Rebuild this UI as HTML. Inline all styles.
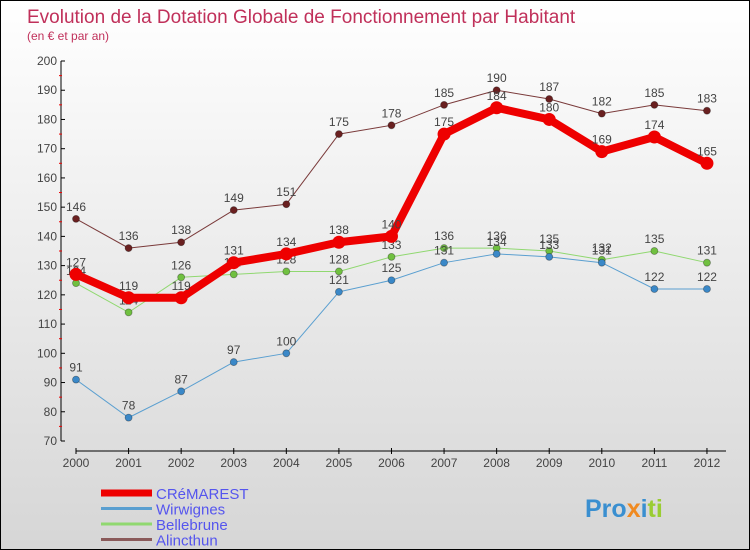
<!DOCTYPE html>
<html><head><meta charset="utf-8"><style>
body{margin:0}
#c{position:relative;width:748px;height:548px;border:1px solid #000;background:linear-gradient(#ffffff,#d6d6d6);font-family:"Liberation Sans",sans-serif;overflow:hidden}
</style></head><body>
<div id="c">
<svg id="s" width="748" height="548" style="position:absolute;left:0;top:0">
<text x="26" y="22" font-size="19" fill="#c0305a">Evolution de la Dotation Globale de Fonctionnement par Habitant</text>
<text x="26" y="39" font-size="12" fill="#c0305a">(en € et par an)</text>
<g id="axes"></g><g id="series"></g><g id="legend"></g>
<text x="584" y="516" font-size="25" font-weight="bold" fill="#3a8fd0">Pro<tspan fill="#f08a20">x</tspan><tspan fill="#3a8fd0">i</tspan><tspan fill="#9acd32">ti</tspan></text>
</svg>
</div>
<script>
const years=[2000,2001,2002,2003,2004,2005,2006,2007,2008,2009,2010,2011,2012];
const yTicks=[70,80,90,100,110,120,130,140,150,160,170,180,190,200];
const seriesNames=["CRéMAREST","Wirwignes","Bellebrune","Alincthun"];
const cremarest=[127,119,119,131,134,138,140,175,184,180,169,174,165];
const wirwignes=[91,78,87,97,100,121,125,131,134,133,131,122,122];
const bellebrune=[124,114,126,127,128,128,133,136,136,135,132,135,131];
const alincthun=[146,136,138,149,151,175,178,185,190,187,182,185,183];
const NS="http://www.w3.org/2000/svg";
const X=i=>75+i*52.58;
const Y=v=>440-(v-70)*380/130;
function mk(t,a,p){const e=document.createElementNS(NS,t);for(const k in a)e.setAttribute(k,a[k]);p.appendChild(e);return e;}
const ax=document.getElementById('axes');
let yl=mk('line',{x1:60,y1:60,x2:60,y2:440,stroke:'#000'},ax);


yTicks.forEach(v=>{
 mk('line',{x1:60,y1:Y(v),x2:64,y2:Y(v),stroke:'#000'},ax);
 if(v<200)mk('line',{x1:58,y1:Y(v+5),x2:61,y2:Y(v+5),stroke:'#e00'},ax);
 const t=mk('text',{x:56,y:Y(v)+4,'font-size':12,fill:'#444','text-anchor':'end'},ax);t.textContent=v;
 
 
});
let xl=mk('line',{x1:75,y1:450,x2:725,y2:450,stroke:'#000'},ax);


years.forEach((y,i)=>{
 mk('line',{x1:X(i),y1:447,x2:X(i),y2:453,stroke:'#000'},ax);
 const t=mk('text',{x:X(i),y:466,'font-size':12,fill:'#444','text-anchor':'middle'},ax);t.textContent=y;
 
 
});
const sg=document.getElementById('series');
const defs=[[alincthun,'#7a3a3a','#6a2020',1,3.5],[bellebrune,'#90d870','#70c040',1,3.5],[wirwignes,'#5a9fd0','#3a88c8',1,3.5],[cremarest,'#ee0000','#ee0000',8,6.5]];
const names=['alincthun','bellebrune','wirwignes','cremarest'];
defs.forEach((d,k)=>{
 const g=mk('g',{},sg);
 
 
 mk('polyline',{points:d[0].map((v,i)=>X(i)+','+Y(v)).join(' '),fill:'none',stroke:d[1],'stroke-width':d[3],'stroke-linejoin':'round'},g);
 d[0].forEach((v,i)=>{
  const c=mk('circle',{cx:X(i),cy:Y(v),r:d[4],fill:d[2],stroke:d[3]>1?'none':'rgba(0,0,0,0.35)','stroke-width':0.8},g);
  
  
  const t=mk('text',{x:X(i),y:Y(v)-8,'font-size':12,fill:'#444','text-anchor':'middle'},g);t.textContent=v;
 });
});
const lg=document.getElementById('legend');
const lc=['#ee0000','#5a9fd0','#90d870','#8a5a5a'],lw=[7,3,3,3];
seriesNames.forEach((n,i)=>{
 const y=492+i*15.5;
 mk('line',{x1:100,y1:y,x2:151,y2:y,stroke:lc[i],'stroke-width':lw[i]},lg);
 const t=mk('text',{x:155,y:y+6,'font-size':15,fill:'#5555ee'},lg);t.textContent=n;
 
 
});
</script>
</body></html>
